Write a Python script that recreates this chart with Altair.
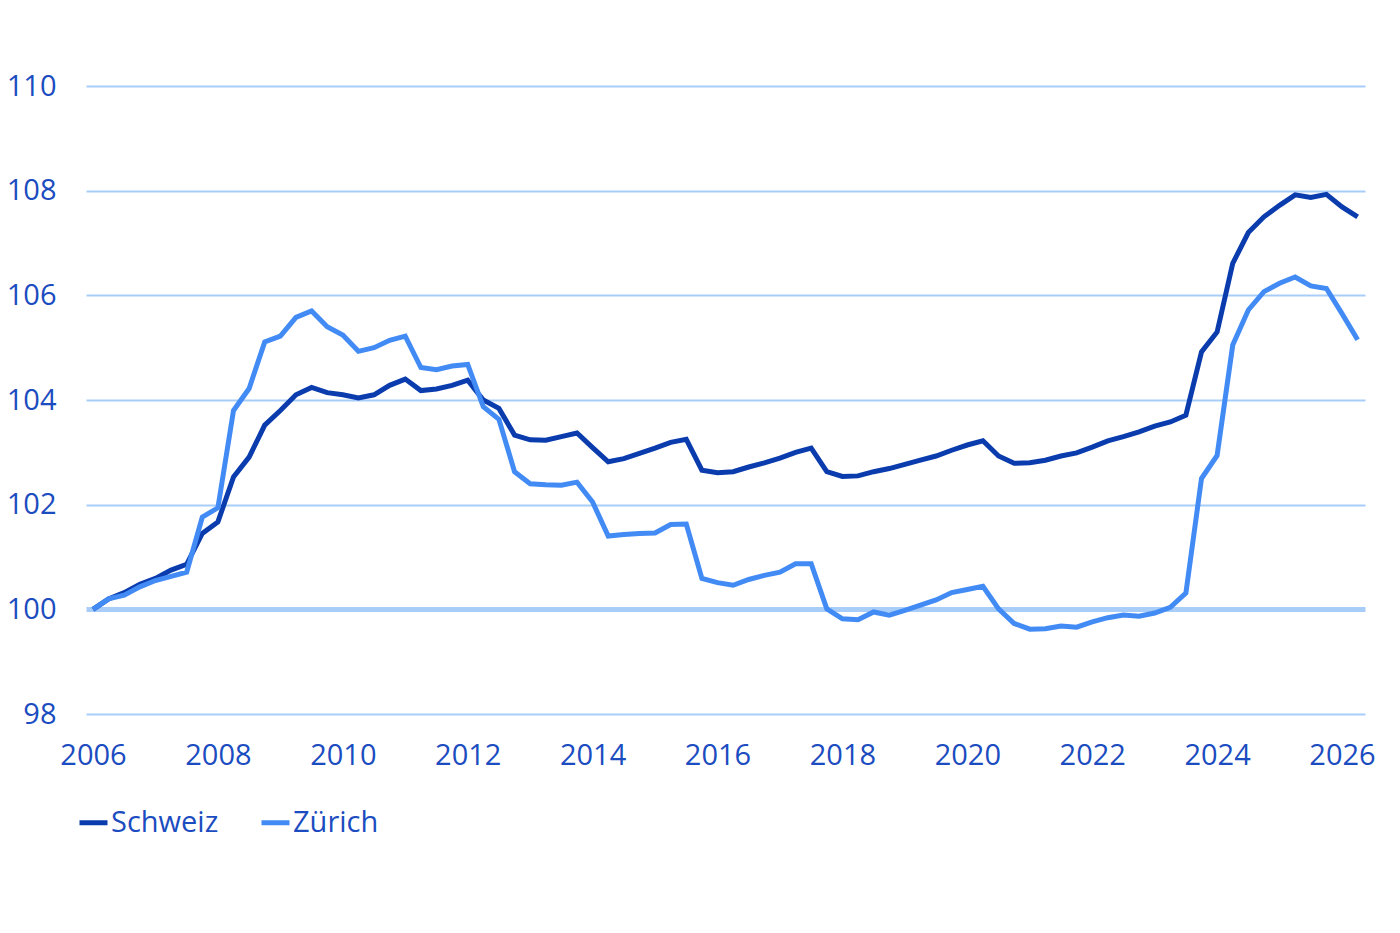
import altair as alt
import pandas as pd

# Quarterly index values, 2006 Q1 .. 2026 Q2 (82 quarters)
start_year = 2006
n_quarters = 82

schweiz = [
    100.0, 100.2, 100.32, 100.48, 100.59, 100.75, 100.86, 101.45, 101.67, 102.53,
    102.91, 103.52, 103.8, 104.1, 104.24, 104.14, 104.1, 104.04, 104.1, 104.28,
    104.4, 104.18, 104.21, 104.28, 104.38, 104.0, 103.84, 103.33, 103.24, 103.23,
    103.3, 103.37, 103.09, 102.82, 102.88, 102.98, 103.08, 103.19, 103.25, 102.66,
    102.61, 102.63, 102.72, 102.8, 102.89, 103.0, 103.08, 102.63, 102.54, 102.55,
    102.63, 102.69, 102.77, 102.85, 102.93, 103.04, 103.14, 103.22, 102.93, 102.79,
    102.8, 102.85, 102.93, 102.99, 103.1, 103.22, 103.3, 103.39, 103.5, 103.58,
    103.71, 104.92, 105.3, 106.61, 107.2, 107.5, 107.72, 107.92, 107.87, 107.93,
    107.69, 107.5,
]

zuerich = [
    100.0, 100.2, 100.27, 100.43, 100.55, 100.63, 100.71, 101.76, 101.94, 103.8,
    104.22, 105.11, 105.22, 105.58, 105.7, 105.4, 105.24, 104.93, 105.0, 105.14,
    105.22, 104.62, 104.58, 104.65, 104.68, 103.87, 103.63, 102.63, 102.4, 102.38,
    102.37, 102.43, 102.05, 101.4, 101.43, 101.45, 101.46, 101.62, 101.63, 100.59,
    100.51, 100.46, 100.57, 100.65, 100.71, 100.87, 100.87, 100.01, 99.82, 99.8,
    99.95, 99.89, 99.98, 100.08, 100.18, 100.32, 100.38, 100.44, 100.01, 99.73,
    99.62, 99.63, 99.68, 99.66, 99.76, 99.84, 99.89, 99.87, 99.93, 100.04,
    100.31, 102.5, 102.94, 105.05, 105.72, 106.07, 106.23, 106.35, 106.18, 106.13,
    105.65, 105.15,
]

series_names = ["Schweiz", "Zürich"]
series_colors = ["#0a3cae", "#428bf5"]
year_ticks = [2006, 2008, 2010, 2012, 2014, 2016, 2018, 2020, 2022, 2024, 2026]
y_ticks = [98, 100, 102, 104, 106, 108, 110]

time = [start_year + i / 4 for i in range(n_quarters)]

df_ch = pd.DataFrame({"t": time, "v": schweiz, "s": series_names[0]})
df_zh = pd.DataFrame({"t": time, "v": zuerich, "s": series_names[1]})

text_color = "#1b4cc0"
grid_color = "#a8cdf8"
font = "Open Sans"

x_enc = alt.X(
    "t:Q",
    scale=alt.Scale(domain=[2005.888, 2026.368], nice=False, zero=False),
    axis=alt.Axis(
        values=year_ticks, format="d", title=None, grid=False, domain=False,
        ticks=False, labelPadding=27, labelFontSize=29, labelColor=text_color,
        labelFont=font, labelFontWeight="normal",
    ),
)
y_enc = alt.Y(
    "v:Q",
    scale=alt.Scale(domain=[98, 110], nice=False, zero=False),
    axis=alt.Axis(
        values=y_ticks, title=None, domain=False, ticks=False, labelPadding=30,
        labelFontSize=29, labelColor=text_color, labelFont=font, labelFontWeight="normal",
        grid=True, gridColor=grid_color,
        gridWidth={"condition": {"test": "datum.value === 100", "value": 5}, "value": 2},
    ),
)
color_enc = alt.Color(
    "s:N",
    scale=alt.Scale(domain=series_names, range=series_colors),
    legend=alt.Legend(
        title=None, orient="none", legendX=-9, legendY=720, direction="horizontal",
        symbolType="stroke", symbolStrokeWidth=5, symbolSize=784,
        labelFontSize=29, labelColor=text_color, labelFont=font, labelFontWeight="normal",
        labelOffset=1, columnPadding=32, labelLimit=300,
    ),
)

line_ch = alt.Chart(df_ch).mark_line(strokeWidth=5).encode(x=x_enc, y=y_enc, color=color_enc)
line_zh = alt.Chart(df_zh).mark_line(strokeWidth=5).encode(x=x_enc, y=y_enc, color=color_enc)

chart = (
    alt.layer(line_ch, line_zh)
    .properties(
        width=1279, height=628,
        autosize=alt.AutoSizeParams(type="none"),
        padding={"left": 78, "top": 78, "right": 20, "bottom": 150},
        background="white",
    )
    .configure_view(stroke=None)
)

chart.save("out.html", embed_options={"renderer": "svg", "actions": False})
